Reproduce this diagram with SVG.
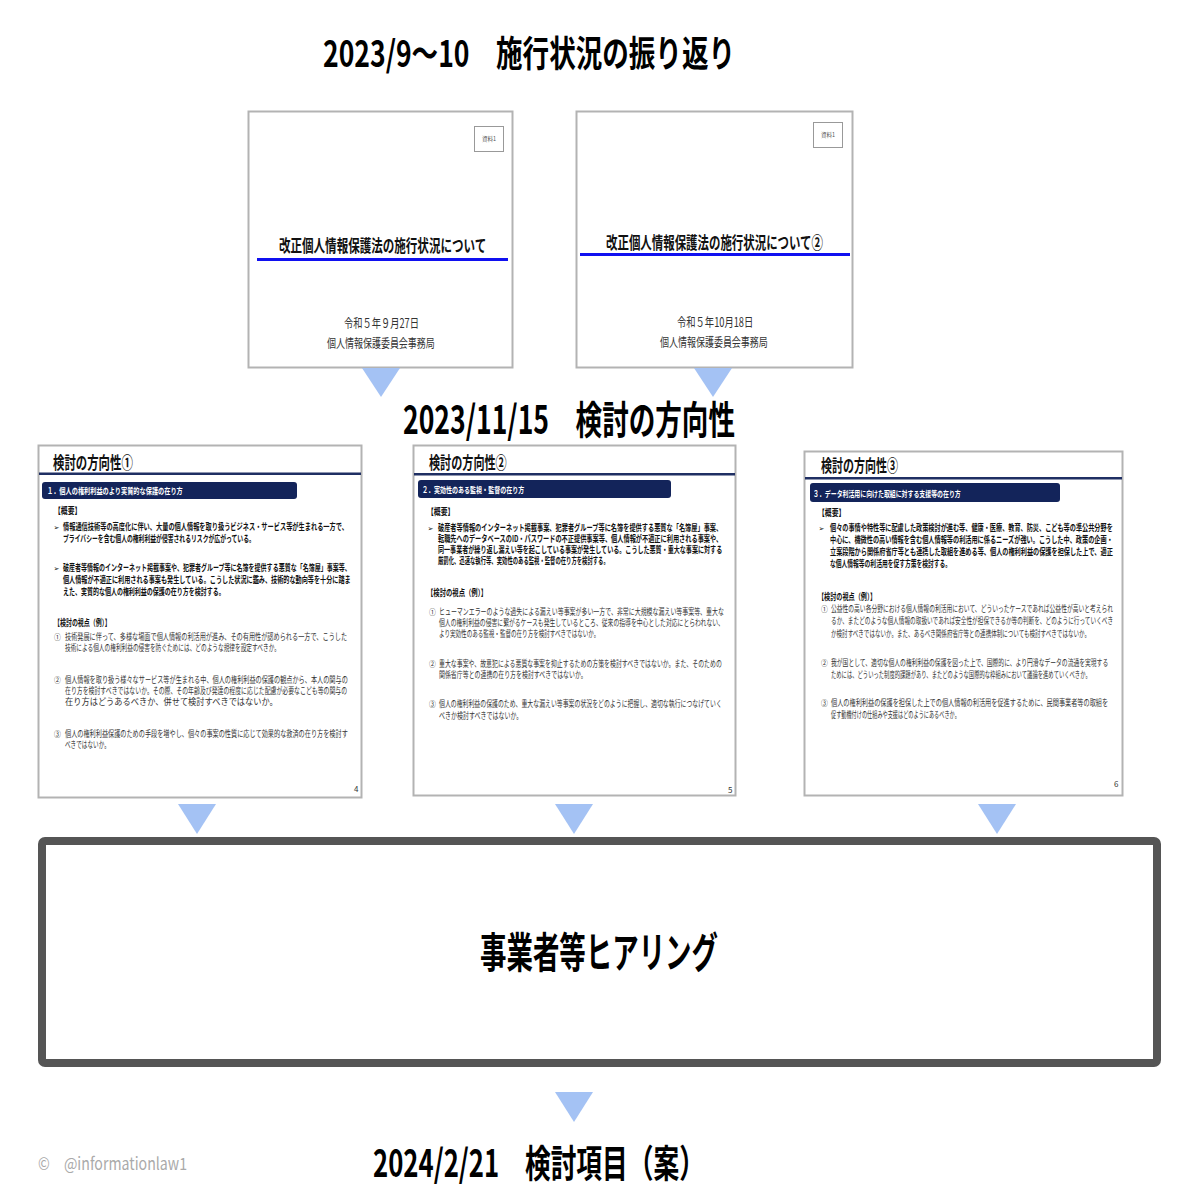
<svg xmlns="http://www.w3.org/2000/svg" width="1204" height="1204" viewBox="0 0 1204 1204">
<defs>
<style>
text{font-family:"Noto Sans CJK JP","Noto Sans",sans-serif;}
.h{font-weight:700;fill:#000;}
.slide{fill:#fff;stroke:#b3b3b3;stroke-width:2;}
.arr{fill:#a4c2f4;}
.tt{font-weight:700;font-size:17px;fill:#111;}
.sub{font-size:12.5px;fill:#333;}
.blue{fill:#1010f0;}
.tag{fill:#fff;stroke:#999;stroke-width:1;}
.tagt{font-size:6px;fill:#555;}
.st{font-weight:700;font-size:17px;fill:#111;}
.navy{fill:#1f2f63;}
.bar{fill:#13245a;}
.bart{font-size:8.5px;fill:#fff;font-weight:700;}
.b{font-weight:700;font-size:9px;fill:#111;}
.r{font-size:8.8px;fill:#333;}
.sym{font-family:"DejaVu Sans",sans-serif;font-size:7px;fill:#111;}
.cn{font-size:8.5px;fill:#333;}
.pg{font-size:8px;fill:#333;}
</style>
</defs>
<rect width="1204" height="1204" fill="#fff"/>

<text class="h" x="323" y="67" font-size="36" textLength="412" lengthAdjust="spacingAndGlyphs">2023/9～10　施行状況の振り返り</text>

<g id="slideA">
<rect class="slide" x="248.5" y="111.5" width="264" height="256"/>
<rect class="tag" x="474.5" y="126.5" width="29" height="25"/>
<text class="tagt" x="482" y="141" textLength="14" lengthAdjust="spacingAndGlyphs">資料1</text>
<text class="tt" transform="translate(279,252) scale(0.7,1)" textLength="296" lengthAdjust="spacingAndGlyphs">改正個人情報保護法の施行状況について</text>
<rect class="blue" x="257" y="258" width="251" height="3"/>
<text class="sub" transform="translate(344,328) scale(0.7,1)" textLength="107" lengthAdjust="spacingAndGlyphs">令和５年９月27日</text>
<text class="sub" transform="translate(327,348) scale(0.7,1)" textLength="154" lengthAdjust="spacingAndGlyphs">個人情報保護委員会事務局</text>
</g>

<g id="slideB">
<rect class="slide" x="576.5" y="111.5" width="276" height="256"/>
<rect class="tag" x="813.5" y="122.5" width="29" height="25"/>
<text class="tagt" x="821" y="137" textLength="14" lengthAdjust="spacingAndGlyphs">資料1</text>
<text class="tt" transform="translate(606,249) scale(0.7,1)" textLength="310" lengthAdjust="spacingAndGlyphs">改正個人情報保護法の施行状況について②</text>
<rect class="blue" x="580" y="253" width="270" height="3"/>
<text class="sub" transform="translate(677,327) scale(0.7,1)" textLength="109" lengthAdjust="spacingAndGlyphs">令和５年10月18日</text>
<text class="sub" transform="translate(660,347) scale(0.7,1)" textLength="154" lengthAdjust="spacingAndGlyphs">個人情報保護委員会事務局</text>
</g>

<text class="h" x="403" y="434" font-size="39" textLength="332" lengthAdjust="spacingAndGlyphs">2023/11/15　検討の方向性</text>

<g id="slide1">
<rect class="slide" x="38.5" y="445.5" width="323" height="352"/>
<text class="st" transform="translate(53,469) scale(0.7,1)" textLength="114" lengthAdjust="spacingAndGlyphs">検討の方向性①</text>
<rect class="navy" x="39" y="472.5" width="322" height="2.5"/>
<rect class="bar" x="42" y="482" width="255" height="17" rx="3"/>
<text class="bart" transform="translate(47,494) scale(0.7,1)" textLength="194" lengthAdjust="spacingAndGlyphs">１．個人の権利利益のより実質的な保護の在り方</text>
<text class="b" transform="translate(54,514) scale(0.7,1)" textLength="39" lengthAdjust="spacingAndGlyphs">【概要】</text>
<text class="sym" x="53.5" y="530">➢</text>
<text class="b" transform="translate(63,530) scale(0.7,1)" textLength="407" lengthAdjust="spacingAndGlyphs">情報通信技術等の高度化に伴い、大量の個人情報を取り扱うビジネス・サービス等が生まれる一方で、</text>
<text class="b" transform="translate(63,542) scale(0.7,1)" textLength="274" lengthAdjust="spacingAndGlyphs">プライバシーを含む個人の権利利益が侵害されるリスクが広がっている。</text>
<text class="sym" x="53.5" y="571">➢</text>
<text class="b" transform="translate(63,571) scale(0.7,1)" textLength="411" lengthAdjust="spacingAndGlyphs">破産者等情報のインターネット掲載事案や、犯罪者グループ等に名簿を提供する悪質な「名簿屋」事案等、</text>
<text class="b" transform="translate(63,583) scale(0.7,1)" textLength="411" lengthAdjust="spacingAndGlyphs">個人情報が不適正に利用される事案も発生している。こうした状況に鑑み、技術的な動向等を十分に踏ま</text>
<text class="b" transform="translate(63,595) scale(0.7,1)" textLength="231" lengthAdjust="spacingAndGlyphs">えた、実質的な個人の権利利益の保護の在り方を検討する。</text>
<text class="b" transform="translate(54,626) scale(0.7,1)" textLength="81" lengthAdjust="spacingAndGlyphs">【検討の視点（例）】</text>
<text class="cn" transform="translate(54,640) scale(0.8,1)">①</text>
<text class="r" transform="translate(65,640) scale(0.7,1)" textLength="403" lengthAdjust="spacingAndGlyphs">技術発展に伴って、多様な場面で個人情報の利活用が進み、その有用性が認められる一方で、こうした</text>
<text class="r" transform="translate(65,651) scale(0.7,1)" textLength="307" lengthAdjust="spacingAndGlyphs">技術による個人の権利利益の侵害を防ぐためには、どのような規律を設定すべきか。</text>
<text class="cn" transform="translate(54,683) scale(0.8,1)">②</text>
<text class="r" transform="translate(65,683) scale(0.7,1)" textLength="404" lengthAdjust="spacingAndGlyphs">個人情報を取り扱う様々なサービス等が生まれる中、個人の権利利益の保護の観点から、本人の関与の</text>
<text class="r" transform="translate(65,694) scale(0.7,1)" textLength="403" lengthAdjust="spacingAndGlyphs">在り方を検討すべきではないか。その際、その年齢及び発達の程度に応じた配慮が必要なこども等の関与の</text>
<text class="r" transform="translate(65,705) scale(0.7,1)" textLength="304" lengthAdjust="spacingAndGlyphs">在り方はどうあるべきか、併せて検討すべきではないか。</text>
<text class="cn" transform="translate(54,737) scale(0.8,1)">③</text>
<text class="r" transform="translate(65,737) scale(0.7,1)" textLength="404" lengthAdjust="spacingAndGlyphs">個人の権利利益保護のための手段を増やし、個々の事案の性質に応じて効果的な救済の在り方を検討す</text>
<text class="r" transform="translate(65,748) scale(0.7,1)" textLength="64" lengthAdjust="spacingAndGlyphs">べきではないか。</text>
<text class="pg" x="354" y="792">4</text>
</g>

<g id="slide2">
<rect class="slide" x="413.5" y="445.5" width="322" height="350"/>
<text class="st" transform="translate(429,469) scale(0.7,1)" textLength="111" lengthAdjust="spacingAndGlyphs">検討の方向性②</text>
<rect class="navy" x="414" y="473" width="321" height="2.5"/>
<rect class="bar" x="418" y="480" width="253" height="18" rx="3"/>
<text class="bart" transform="translate(422,493) scale(0.7,1)" textLength="146" lengthAdjust="spacingAndGlyphs">２．実効性のある監視・監督の在り方</text>
<text class="b" transform="translate(427,515) scale(0.7,1)" textLength="39" lengthAdjust="spacingAndGlyphs">【概要】</text>
<text class="sym" x="427.5" y="531">➢</text>
<text class="b" transform="translate(438,531) scale(0.7,1)" textLength="406" lengthAdjust="spacingAndGlyphs">破産者等情報のインターネット掲載事案、犯罪者グループ等に名簿を提供する悪質な「名簿屋」事案、</text>
<text class="b" transform="translate(438,542) scale(0.7,1)" textLength="406" lengthAdjust="spacingAndGlyphs">転職先へのデータベースのID・パスワードの不正提供事案等、個人情報が不適正に利用される事案や、</text>
<text class="b" transform="translate(438,553) scale(0.7,1)" textLength="406" lengthAdjust="spacingAndGlyphs">同一事業者が繰り返し漏えい等を起こしている事案が発生している。こうした悪質・重大な事案に対する</text>
<text class="b" transform="translate(438,564) scale(0.7,1)" textLength="244" lengthAdjust="spacingAndGlyphs">厳罰化、迅速な執行等、実効性のある監視・監督の在り方を検討する。</text>
<text class="b" transform="translate(427,596) scale(0.7,1)" textLength="86" lengthAdjust="spacingAndGlyphs">【検討の視点（例）】</text>
<text class="cn" transform="translate(429,615) scale(0.8,1)">①</text>
<text class="r" transform="translate(439,615) scale(0.7,1)" textLength="407" lengthAdjust="spacingAndGlyphs">ヒューマンエラーのような過失による漏えい等事案が多い一方で、非常に大規模な漏えい等事案等、重大な</text>
<text class="r" transform="translate(439,626) scale(0.7,1)" textLength="407" lengthAdjust="spacingAndGlyphs">個人の権利利益の侵害に繋がるケースも発生しているところ、従来の指導を中心とした対応にとらわれない、</text>
<text class="r" transform="translate(439,637) scale(0.7,1)" textLength="229" lengthAdjust="spacingAndGlyphs">より実効性のある監視・監督の在り方を検討すべきではないか。</text>
<text class="cn" transform="translate(429,667) scale(0.8,1)">②</text>
<text class="r" transform="translate(439,667) scale(0.7,1)" textLength="404" lengthAdjust="spacingAndGlyphs">重大な事案や、故意犯による悪質な事案を抑止するための方策を検討すべきではないか。また、そのための</text>
<text class="r" transform="translate(439,678) scale(0.7,1)" textLength="211" lengthAdjust="spacingAndGlyphs">関係省庁等との連携の在り方を検討すべきではないか。</text>
<text class="cn" transform="translate(429,707) scale(0.8,1)">③</text>
<text class="r" transform="translate(439,707) scale(0.7,1)" textLength="404" lengthAdjust="spacingAndGlyphs">個人の権利利益の保護のため、重大な漏えい等事案の状況をどのように把握し、適切な執行につなげていく</text>
<text class="r" transform="translate(439,719) scale(0.7,1)" textLength="119" lengthAdjust="spacingAndGlyphs">べきか検討すべきではないか。</text>
<text class="pg" x="728" y="793">5</text>
</g>

<g id="slide3">
<rect class="slide" x="804.5" y="451.5" width="318" height="344"/>
<text class="st" transform="translate(821,472) scale(0.7,1)" textLength="110" lengthAdjust="spacingAndGlyphs">検討の方向性③</text>
<rect class="navy" x="805" y="477" width="317" height="2.5"/>
<rect class="bar" x="810" y="483" width="250" height="19" rx="3"/>
<text class="bart" transform="translate(813,497) scale(0.7,1)" textLength="211" lengthAdjust="spacingAndGlyphs">３．データ利活用に向けた取組に対する支援等の在り方</text>
<text class="b" transform="translate(818,516) scale(0.7,1)" textLength="39" lengthAdjust="spacingAndGlyphs">【概要】</text>
<text class="sym" x="818.5" y="531">➢</text>
<text class="b" transform="translate(830,531) scale(0.7,1)" textLength="404" lengthAdjust="spacingAndGlyphs">個々の事情や特性等に配慮した政策検討が進む等、健康・医療、教育、防災、こども等の準公共分野を</text>
<text class="b" transform="translate(830,543) scale(0.7,1)" textLength="404" lengthAdjust="spacingAndGlyphs">中心に、機微性の高い情報を含む個人情報等の利活用に係るニーズが強い。こうした中、政策の企画・</text>
<text class="b" transform="translate(830,555) scale(0.7,1)" textLength="404" lengthAdjust="spacingAndGlyphs">立案段階から関係府省庁等とも連携した取組を進める等、個人の権利利益の保護を担保した上で、適正</text>
<text class="b" transform="translate(830,567) scale(0.7,1)" textLength="173" lengthAdjust="spacingAndGlyphs">な個人情報等の利活用を促す方策を検討する。</text>
<text class="b" transform="translate(818,600) scale(0.7,1)" textLength="83" lengthAdjust="spacingAndGlyphs">【検討の視点（例）】</text>
<text class="cn" transform="translate(821,612) scale(0.8,1)">①</text>
<text class="r" transform="translate(831,612) scale(0.7,1)" textLength="403" lengthAdjust="spacingAndGlyphs">公益性の高い各分野における個人情報の利活用において、どういったケースであれば公益性が高いと考えられ</text>
<text class="r" transform="translate(831,624) scale(0.7,1)" textLength="403" lengthAdjust="spacingAndGlyphs">るか、またどのような個人情報の取扱いであれば安全性が担保できるか等の判断を、どのように行っていくべき</text>
<text class="r" transform="translate(831,637) scale(0.7,1)" textLength="370" lengthAdjust="spacingAndGlyphs">か検討すべきではないか。また、あるべき関係府省庁等との連携体制についても検討すべきではないか。</text>
<text class="cn" transform="translate(821,666) scale(0.8,1)">②</text>
<text class="r" transform="translate(831,666) scale(0.7,1)" textLength="396" lengthAdjust="spacingAndGlyphs">我が国として、適切な個人の権利利益の保護を図った上で、国際的に、より円滑なデータの流通を実現する</text>
<text class="r" transform="translate(831,678) scale(0.7,1)" textLength="371" lengthAdjust="spacingAndGlyphs">ためには、どういった制度的課題があり、またどのような国際的な枠組みにおいて議論を進めていくべきか。</text>
<text class="cn" transform="translate(821,706) scale(0.8,1)">③</text>
<text class="r" transform="translate(831,706) scale(0.7,1)" textLength="396" lengthAdjust="spacingAndGlyphs">個人の権利利益の保護を担保した上での個人情報の利活用を促進するために、民間事業者等の取組を</text>
<text class="r" transform="translate(831,718) scale(0.7,1)" textLength="184" lengthAdjust="spacingAndGlyphs">促す動機付けの仕組みや支援はどのようにあるべきか。</text>
<text class="pg" x="1114" y="787">6</text>
</g>

<g id="hearing">
<rect x="42" y="841" width="1115" height="222" rx="3" fill="#fff" stroke="#555" stroke-width="8"/>
<text class="h" x="480" y="968" font-size="42" textLength="238" lengthAdjust="spacingAndGlyphs">事業者等ヒアリング</text>
</g>

<g id="connectors">
<polygon class="arr" points="362,368 400,368 381,397"/>
<polygon class="arr" points="694,368 732,368 713,397"/>
<polygon class="arr" points="178,804 216,804 197,834"/>
<polygon class="arr" points="555,804 593,804 574,834"/>
<polygon class="arr" points="978,804 1016,804 997,834"/>
<polygon class="arr" points="555,1092 593,1092 574,1122"/>
</g>

<text x="38" y="1170" font-size="17" fill="#aaa" textLength="149" lengthAdjust="spacingAndGlyphs">©　@informationlaw1</text>
<text class="h" x="373" y="1177" font-size="38" textLength="332" lengthAdjust="spacingAndGlyphs">2024/2/21　検討項目（案）</text>
</svg>
